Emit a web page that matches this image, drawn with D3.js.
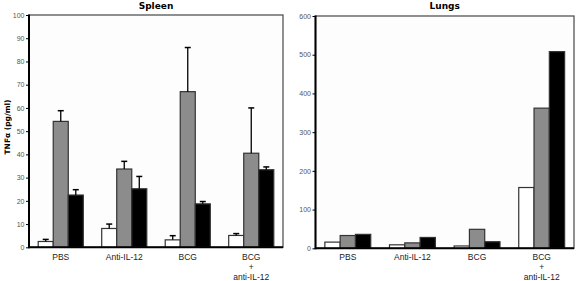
<!DOCTYPE html>
<html><head><meta charset="utf-8">
<script src="https://cdn.jsdelivr.net/npm/d3@7"></script>
<style>body{margin:0;background:#fff}svg{display:block}</style>
</head><body>
<svg id="c" width="576" height="281"></svg>
<script>
const categories = ["PBS", "Anti-IL-12", "BCG", "BCG\n+\nanti-IL-12"];
const series = ["white", "gray", "black"];
const spleenValues = [[2.5, 54.2, 22.5], [8.1, 33.7, 25.2], [3.2, 67, 18.7], [5.1, 40.5, 33.4]];
const spleenErrors = [[0.9, 4.6, 2.3], [1.9, 3.3, 5.3], [1.8, 19, 1.0], [0.8, 19.5, 1.2]];
const lungValues = [[16, 33, 36], [9, 14, 28], [6, 49, 17], [157, 362, 508]];
const spleenTicks = [0, 10, 20, 30, 40, 50, 60, 70, 80, 90, 100];
const lungTicks = [0, 100, 200, 300, 400, 500, 600];
const fills = {white: "#ffffff", gray: "#8c8c8c", black: "#000000"};

const svg = d3.select("#c");

function panel(opt) {
  const g = svg.append("g");
  const x = d3.scaleBand().domain(categories).range([opt.x0, opt.x1]).paddingInner(0.29).paddingOuter(0.145);
  const xs = d3.scaleBand().domain(series).range([0, x.bandwidth()]);
  const y = d3.scaleLinear().domain(opt.domain).range([opt.y0, opt.y1]);

  g.append("rect").attr("x", opt.x0).attr("y", opt.y1).attr("width", opt.x1 - opt.x0).attr("height", opt.y0 - opt.y1)
    .attr("fill", "#fdfdfd").attr("stroke", "#555").attr("stroke-width", 1.3);

  // bars
  categories.forEach((c, i) => {
    series.forEach((s, j) => {
      const v = opt.values[i][j];
      g.append("rect")
        .attr("x", x(c) + xs(s)).attr("y", y(v))
        .attr("width", xs.bandwidth()).attr("height", y(0) - y(v))
        .attr("fill", fills[s]).attr("stroke", "#333").attr("stroke-width", 1.2);
      if (opt.errors) {
        const e = opt.errors[i][j];
        const cx = x(c) + xs(s) + xs.bandwidth() / 2;
        g.append("line").attr("x1", cx).attr("x2", cx).attr("y1", y(v)).attr("y2", y(v + e))
          .attr("stroke", "#000").attr("stroke-width", 1.3);
        g.append("line").attr("x1", cx - 3).attr("x2", cx + 3).attr("y1", y(v + e)).attr("y2", y(v + e))
          .attr("stroke", "#000").attr("stroke-width", 1.5);
      }
    });
  });

  // axes
  const ya = g.append("g").attr("transform", `translate(${opt.x0},0)`)
    .call(d3.axisLeft(y).tickValues(opt.ticks).tickSize(3).tickPadding(1.5));
  ya.select(".domain").remove();
  ya.selectAll("text").attr("font-family", "Liberation Sans, Arial, sans-serif").attr("font-size", 7).attr("fill", "#555");
  ya.selectAll("line").attr("stroke", "#000");
  g.append("line").attr("x1", opt.x0).attr("x2", opt.x0).attr("y1", opt.y1 - 0.5).attr("y2", opt.y0 + 1)
    .attr("stroke", "#000").attr("stroke-width", 2);
  g.append("line").attr("x1", opt.x0).attr("x2", opt.x1).attr("y1", opt.y0).attr("y2", opt.y0)
    .attr("stroke", "#000").attr("stroke-width", 2);

  // category labels
  categories.forEach(c => {
    const lines = c.split("\n");
    lines.forEach((t, k) => {
      g.append("text").attr("x", x(c) + x.bandwidth() / 2).attr("y", 259.5 + k * 10)
        .attr("text-anchor", "middle").attr("font-family", "Liberation Sans, Arial, sans-serif")
        .attr("font-size", 8.5).attr("fill", "#222").text(t);
    });
  });

  g.append("text").attr("x", (opt.x0 + opt.x1) / 2).attr("y", 9)
    .attr("text-anchor", "middle").attr("font-family", "DejaVu Sans, Verdana, sans-serif")
    .attr("font-weight", "bold").attr("font-size", 9).attr("fill", "#000").text(opt.title);
}

panel({title: "Spleen", x0: 29, x1: 283, y0: 247.3, y1: 15, domain: [0, 100], ticks: spleenTicks, values: spleenValues, errors: spleenErrors});
panel({title: "Lungs", x0: 315.5, x1: 574, y0: 248.3, y1: 16, domain: [0, 600], ticks: lungTicks, values: lungValues});

svg.append("text").attr("transform", "translate(10,127) rotate(-90)")
  .attr("text-anchor", "middle").attr("font-family", "DejaVu Sans, Verdana, sans-serif")
  .attr("font-weight", "bold").attr("font-size", 7.5).attr("fill", "#000").text("TNFα (pg/ml)");
</script>
</body></html>
